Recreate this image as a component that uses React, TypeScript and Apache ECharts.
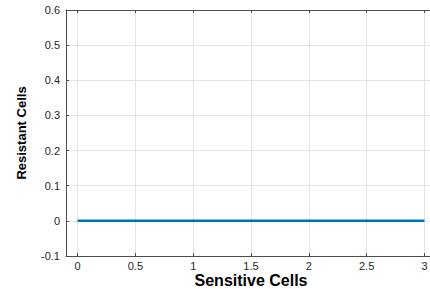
import React, { useEffect, useRef } from "react";
import * as echarts from "echarts";

const sensitiveCells = [0, 0.5, 1, 1.5, 2, 2.5, 3];
const resistantCells = [0, 0, 0, 0, 0, 0, 0];
const xTicks = [0, 0.5, 1, 1.5, 2, 2.5, 3];
const xLabels = ["0", "0.5", "1", "1.5", "2", "2.5", "3"];

export default function App() {
  const ref = useRef<HTMLDivElement>(null);
  useEffect(() => {
    if (!ref.current) return;
    const chart = echarts.init(ref.current, undefined, { renderer: "svg" });
    const axisColor = "#4d4d4d";
    const gridColor = "#e3e3e3";
    const labelStyle = {
      color: "#262626",
      fontFamily: "Liberation Sans, Arial, sans-serif",
      fontSize: 11,
    };
    chart.setOption({
      animation: false,
      backgroundColor: "#ffffff",
      grid: { left: 66, top: 10, right: 4, bottom: 33, containLabel: false, outerBoundsMode: "none" },
      xAxis: [
        {
          type: "value",
          min: -0.1,
          max: 3.1,
          position: "bottom",
          name: "Sensitive Cells",
          nameLocation: "middle",
          nameGap: 17,
          nameMoveOverlap: false,
          nameTextStyle: {
            fontFamily: "Liberation Sans, Arial, sans-serif",
            fontWeight: "bold",
            fontSize: 16,
            color: "#000",
            lineHeight: 14,
          },
          axisLine: { show: true, onZero: false, lineStyle: { color: axisColor, width: 1 } },
          axisTick: { show: true, inside: true, length: 3, customValues: xTicks, lineStyle: { color: axisColor } },
          axisLabel: {
            ...labelStyle,
            margin: 4,
            lineHeight: 12,
            customValues: xTicks,
            formatter: (v: number) => xLabels[xTicks.indexOf(Math.round(v * 10) / 10)] ?? "",
          },
          splitLine: { show: true, lineStyle: { color: gridColor, width: 1 } },
        },
        {
          type: "value",
          min: -0.1,
          max: 3.1,
          position: "top",
          axisLine: { show: true, onZero: false, lineStyle: { color: axisColor, width: 1 } },
          axisTick: { show: true, inside: true, length: 3, customValues: xTicks, lineStyle: { color: axisColor } },
          axisLabel: { show: false },
          splitLine: { show: false },
        },
      ],
      yAxis: {
        type: "value",
        min: -0.1,
        max: 0.6,
        interval: 0.1,
        name: "Resistant Cells",
        nameLocation: "middle",
        nameGap: 38,
        nameMoveOverlap: false,
        nameTextStyle: {
          fontFamily: "Liberation Sans, Arial, sans-serif",
          fontWeight: "bold",
          fontSize: 13,
          color: "#000",
        },
        axisLine: { show: true, onZero: false, lineStyle: { color: axisColor, width: 1 } },
        axisTick: { show: true, inside: true, length: 3, lineStyle: { color: axisColor } },
        axisLabel: {
          ...labelStyle,
          margin: 6,
          formatter: (v: number) => String(Math.round(v * 10) / 10),
        },
        splitLine: { show: true, lineStyle: { color: gridColor, width: 1 } },
      },
      series: [
        {
          type: "line",
          xAxisIndex: 0,
          data: sensitiveCells.map((x, i) => [x, resistantCells[i]]),
          showSymbol: false,
          lineStyle: { color: "#0072BD", width: 2.5 },
          itemStyle: { color: "#0072BD" },
        },
      ],
    });
    return () => chart.dispose();
  }, []);
  return (
    <div style={{ position: "fixed", left: 0, top: 0, width: 430, height: 289, overflow: "hidden", background: "#fff" }}>
      <div ref={ref} style={{ width: 440, height: 289 }} />
    </div>
  );
}
